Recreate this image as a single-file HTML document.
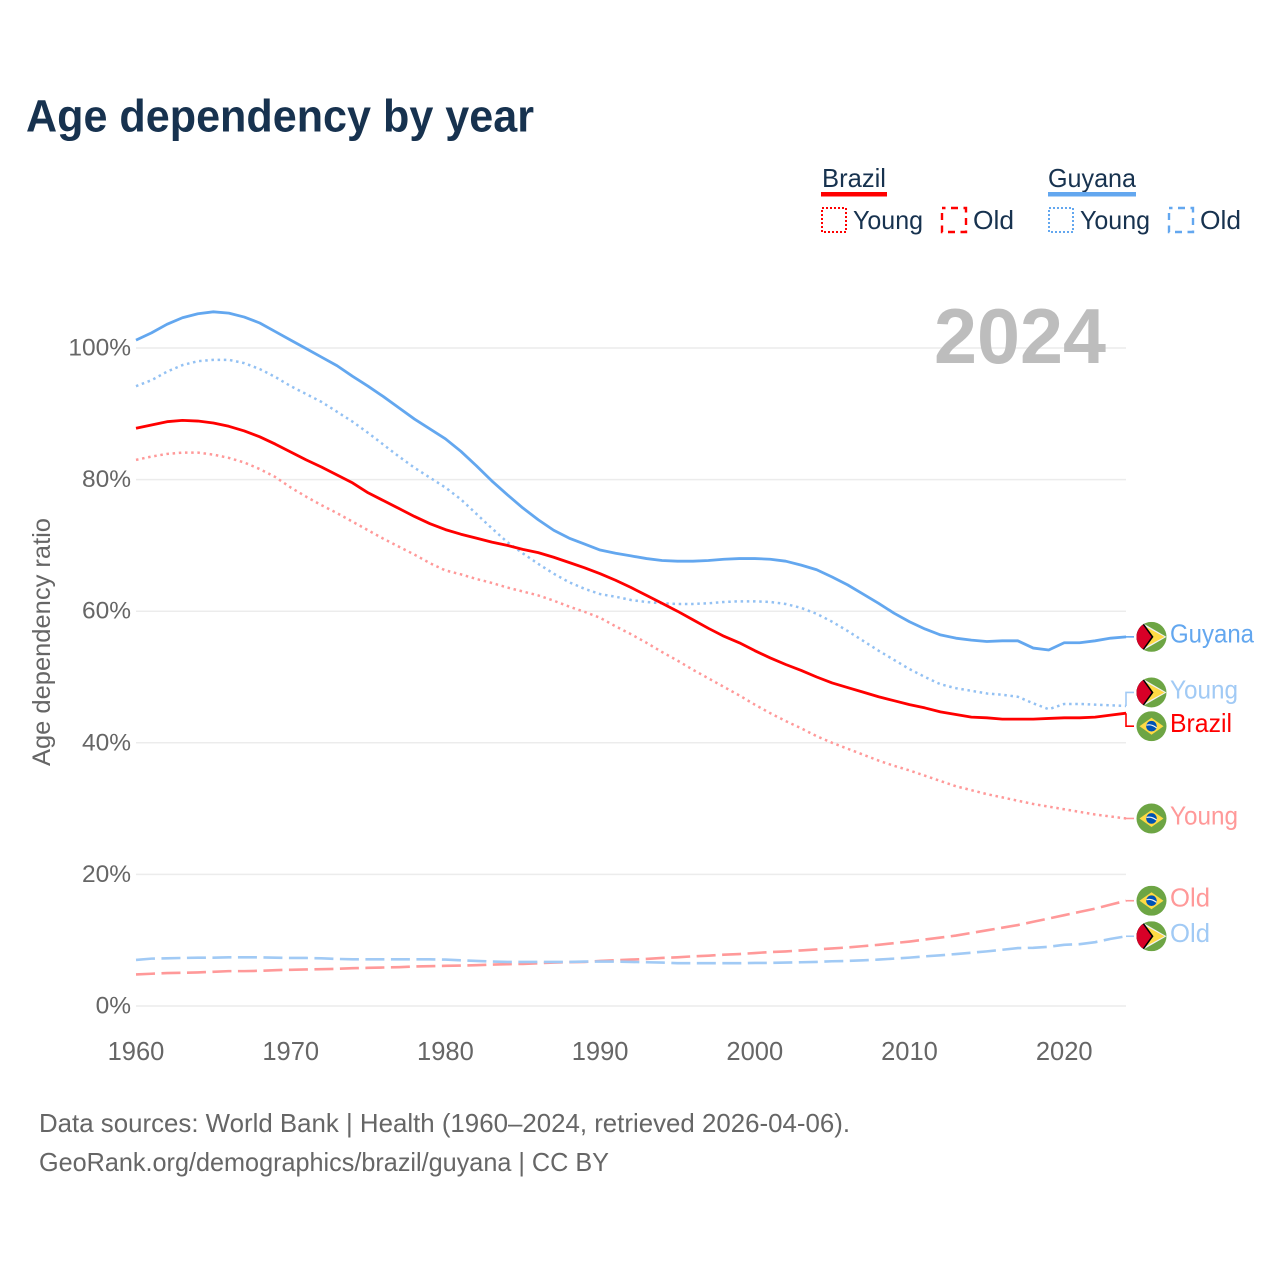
<!DOCTYPE html>
<html lang="en">
<head>
<meta charset="utf-8">
<title>Age dependency by year</title>
<style>
html,body{margin:0;padding:0;background:#fff;width:1280px;height:1280px;overflow:hidden}
svg{display:block;font-family:"Liberation Sans",sans-serif}
</style>
</head>
<body>
<svg id="chart" xmlns="http://www.w3.org/2000/svg" width="1280" height="1280" viewBox="0 0 1280 1280">
  <defs>
    <clipPath id="flag-clip"><circle cx="0" cy="0" r="15"/></clipPath>
    <g id="flag-brazil" clip-path="url(#flag-clip)">
      <rect x="-15" y="-15" width="30" height="30" fill="#6da544"/>
      <polygon points="-12,0 0,-8.5 12,0 0,8.5" fill="#ffda44"/>
      <circle cx="0" cy="0" r="5.3" fill="#0052b4"/>
      <path d="M-5,-1 Q0,-2.4 5,1.6" fill="none" stroke="#f0f0f0" stroke-width="1.2"/>
    </g>
    <g id="flag-guyana" clip-path="url(#flag-clip)">
      <rect x="-15" y="-15" width="30" height="30" fill="#6da544"/>
      <polygon points="-11,-15 15,0 -11,15" fill="#f0f0f0"/>
      <polygon points="-11,-13 13,0 -11,13" fill="#ffda44"/>
      <polygon points="-15,-15 -9,-15 2,0 -9,15 -15,15" fill="#000"/>
      <polygon points="-15,-14 -10,-14 0,0 -10,14 -15,14" fill="#d80027"/>
    </g>
  </defs>

  <text x="26" y="131.5" font-size="45" font-weight="700" fill="#17324f" textLength="508" lengthAdjust="spacingAndGlyphs">Age dependency by year</text>

  <g>
    <text x="822" y="187" font-size="26" fill="#17324f" textLength="64" lengthAdjust="spacingAndGlyphs">Brazil</text>
    <rect x="821" y="192" width="66" height="4.5" fill="#ff0000"/>
    <rect x="822" y="208" width="24" height="24" fill="none" stroke="#ff0000" stroke-width="2" stroke-dasharray="2 2"/>
    <text x="853" y="229" font-size="26" fill="#17324f" textLength="70" lengthAdjust="spacingAndGlyphs">Young</text>
    <rect x="942" y="208" width="24" height="24" fill="none" stroke="#ff0000" stroke-width="2.4" stroke-dasharray="7 5.5" stroke-dashoffset="3.5"/>
    <text x="973" y="229" font-size="26" fill="#17324f" textLength="41" lengthAdjust="spacingAndGlyphs">Old</text>

    <text x="1048" y="187" font-size="26" fill="#17324f" textLength="88" lengthAdjust="spacingAndGlyphs">Guyana</text>
    <rect x="1048" y="192" width="88" height="4.5" fill="#63a7ef"/>
    <rect x="1049" y="208" width="24" height="24" fill="none" stroke="#63a7ef" stroke-width="2" stroke-dasharray="2 2"/>
    <text x="1080" y="229" font-size="26" fill="#17324f" textLength="70" lengthAdjust="spacingAndGlyphs">Young</text>
    <rect x="1169" y="208" width="24" height="24" fill="none" stroke="#63a7ef" stroke-width="2.4" stroke-dasharray="7 5.5" stroke-dashoffset="3.5"/>
    <text x="1200" y="229" font-size="26" fill="#17324f" textLength="41" lengthAdjust="spacingAndGlyphs">Old</text>
  </g>

  <g id="grid"></g>
  <g id="y-ticks"></g>
  <g id="x-ticks"></g>

  <text x="934" y="363" font-size="78" font-weight="700" fill="#bdbdbd" textLength="172" lengthAdjust="spacingAndGlyphs">2024</text>

  <text transform="translate(50,766) rotate(-90)" font-size="25" fill="#666" textLength="248" lengthAdjust="spacingAndGlyphs">Age dependency ratio</text>

  <g id="series"></g>
  <g id="end-labels"></g>

  <text x="39" y="1132" font-size="26" fill="#666" textLength="811" lengthAdjust="spacingAndGlyphs">Data sources: World Bank | Health (1960–2024, retrieved 2026-04-06).</text>
  <text x="39" y="1171" font-size="26" fill="#666" textLength="570" lengthAdjust="spacingAndGlyphs">GeoRank.org/demographics/brazil/guyana | CC BY</text>
</svg>

<script>
const startYear = 1960;
const xTickYears = [1960, 1970, 1980, 1990, 2000, 2010, 2020];
const yTickValues = [0, 20, 40, 60, 80, 100];

const guyanaTotal = [
  101.2,102.3,103.6,104.6,105.2,105.5,105.3,104.7,103.8,102.5,
  101.2,99.9,98.6,97.3,95.7,94.2,92.6,90.9,89.2,87.7,
  86.2,84.3,82.1,79.8,77.7,75.7,73.9,72.3,71.1,70.2,
  69.3,68.8,68.4,68.0,67.7,67.6,67.6,67.7,67.9,68.0,
  68.0,67.9,67.6,67.0,66.3,65.2,64.0,62.6,61.2,59.7,
  58.4,57.3,56.4,55.9,55.6,55.4,55.5,55.5,54.4,54.1,
  55.2,55.2,55.5,55.9,56.1
];
const guyanaYoung = [
  94.2,95.1,96.4,97.4,98.0,98.2,98.2,97.7,96.8,95.6,
  94.2,93.0,91.8,90.3,88.8,87.1,85.3,83.5,81.8,80.3,
  78.8,77.0,74.8,72.6,70.5,68.8,67.2,65.7,64.4,63.4,
  62.6,62.2,61.7,61.4,61.2,61.1,61.1,61.2,61.4,61.5,
  61.5,61.4,61.1,60.5,59.6,58.4,57.0,55.5,54.0,52.6,
  51.2,50.0,48.9,48.3,47.9,47.5,47.3,47.0,46.0,45.1,
  45.9,45.9,45.8,45.7,45.6
];
const guyanaOld = [
  7.0,7.2,7.25,7.3,7.35,7.35,7.4,7.4,7.4,7.35,
  7.3,7.3,7.25,7.15,7.1,7.1,7.1,7.1,7.1,7.1,
  7.05,6.95,6.85,6.75,6.7,6.7,6.7,6.7,6.7,6.75,
  6.75,6.75,6.7,6.65,6.6,6.5,6.5,6.5,6.5,6.5,
  6.55,6.55,6.6,6.65,6.7,6.8,6.85,6.95,7.05,7.2,
  7.35,7.55,7.7,7.9,8.1,8.3,8.55,8.8,8.85,9.0,
  9.3,9.4,9.7,10.2,10.6
];
const brazilTotal = [
  87.8,88.3,88.8,89.0,88.9,88.6,88.1,87.4,86.5,85.4,
  84.2,83.0,81.9,80.7,79.5,78.0,76.8,75.6,74.4,73.3,
  72.4,71.7,71.1,70.5,70.0,69.4,68.9,68.2,67.4,66.6,
  65.7,64.7,63.6,62.4,61.2,60.0,58.7,57.4,56.2,55.2,
  54.0,52.9,51.9,51.0,50.0,49.1,48.4,47.7,47.0,46.4,
  45.8,45.3,44.7,44.3,43.9,43.8,43.6,43.6,43.6,43.7,
  43.8,43.8,43.9,44.2,44.5
];
const brazilYoung = [
  83.0,83.5,83.9,84.1,84.1,83.8,83.3,82.6,81.6,80.4,
  78.8,77.4,76.1,74.9,73.6,72.3,71.0,69.8,68.6,67.3,
  66.2,65.6,64.9,64.3,63.6,63.0,62.4,61.6,60.7,59.9,
  59.0,57.7,56.5,55.2,53.8,52.5,51.1,49.8,48.5,47.2,
  45.8,44.5,43.3,42.2,41.0,40.0,39.1,38.2,37.3,36.5,
  35.8,35.0,34.2,33.4,32.8,32.2,31.7,31.2,30.7,30.3,
  29.9,29.5,29.1,28.8,28.5
];
const brazilOld = [
  4.8,4.9,5.0,5.05,5.1,5.2,5.3,5.3,5.35,5.45,
  5.5,5.55,5.6,5.65,5.75,5.8,5.85,5.9,6.0,6.05,
  6.1,6.15,6.2,6.3,6.35,6.4,6.5,6.6,6.65,6.7,
  6.85,6.95,7.05,7.15,7.3,7.4,7.55,7.65,7.8,7.9,
  8.05,8.2,8.3,8.45,8.6,8.75,8.9,9.1,9.3,9.55,
  9.8,10.1,10.4,10.7,11.1,11.5,11.9,12.3,12.8,13.3,
  13.8,14.3,14.8,15.4,16.0
];

const NS = 'http://www.w3.org/2000/svg';
function xScale(year) { return 136 + (year - 1960) * 15.47; }
function yScale(value) { return 1006 - value * 6.58; }
function make(tag, parent, attrs) {
  const el = document.createElementNS(NS, tag);
  for (const k in attrs) el.setAttribute(k, attrs[k]);
  parent.appendChild(el);
  return el;
}

const gridG = document.getElementById('grid');
const yG = document.getElementById('y-ticks');
const xG = document.getElementById('x-ticks');
yTickValues.forEach(function (v) {
  const line = make('line', gridG, {x1: 136, x2: 1126, y1: yScale(v), y2: yScale(v), stroke: '#ececec', 'stroke-width': 1.5});
  
  
  const t = make('text', yG, {x: 131, y: yScale(v) + 7.5, 'text-anchor': 'end', 'font-size': 24.5, fill: '#666'});
  t.textContent = v + '%';
  
  
});
xTickYears.forEach(function (yr) {
  const t = make('text', xG, {x: xScale(yr), y: 1060, 'text-anchor': 'middle', 'font-size': 25.5, fill: '#666'});
  t.textContent = String(yr);
  
  
});

const seriesG = document.getElementById('series');
const labelsG = document.getElementById('end-labels');
function drawSeries(values, color, width, dash, seriesName) {
  const pts = values.map(function (v, i) { return xScale(startYear + i).toFixed(2) + ',' + yScale(v).toFixed(2); }).join(' ');
  const attrs = {points: pts, fill: 'none', stroke: color, 'stroke-width': width, 'stroke-linejoin': 'round'};
  if (dash) attrs['stroke-dasharray'] = dash;
  const line = make('polyline', seriesG, attrs);
  
  
}
function drawEndLabel(values, flag, text, textWidth, color, offset, labelName) {
  const endY = yScale(values[values.length - 1]);
  const cy = endY + offset;
  const path = 'M1126,' + endY.toFixed(2) + ' L1126,' + cy.toFixed(2) + ' L1134,' + cy.toFixed(2);
  const connector = make('path', labelsG, {d: path, fill: 'none', stroke: color, 'stroke-width': 1.6});
  
  
  const use = make('use', labelsG, {href: '#flag-' + flag, transform: 'translate(1151.5,' + cy.toFixed(2) + ')'});
  
  
  const t = make('text', labelsG, {x: 1170, y: (cy + 5.8).toFixed(2), 'font-size': 26, fill: color, textLength: textWidth, lengthAdjust: 'spacingAndGlyphs'});
  t.textContent = text;
  
  
}

drawSeries(brazilYoung, '#ff9999', 2.5, '2.5 3.7', 'brazil-young-line');
drawSeries(brazilOld, '#ff9999', 2.6, '19 6.5', 'brazil-old-line');
drawSeries(guyanaYoung, '#93c1f3', 2.5, '2.5 3.7', 'guyana-young-line');
drawSeries(guyanaOld, '#a1caf5', 2.6, '19 6.5', 'guyana-old-line');
drawSeries(guyanaTotal, '#63a7ef', 2.8, null, 'guyana-total-line');
drawSeries(brazilTotal, '#ff0000', 2.8, null, 'brazil-total-line');

drawEndLabel(guyanaTotal, 'guyana', 'Guyana', 84, '#63a7ef', 0, 'guyana-total-label');
drawEndLabel(guyanaYoung, 'guyana', 'Young', 68, '#a1caf5', -13.5, 'guyana-young-label');
drawEndLabel(brazilTotal, 'brazil', 'Brazil', 62, '#ff0000', 13, 'brazil-total-label');
drawEndLabel(brazilYoung, 'brazil', 'Young', 68, '#ff9999', 0, 'brazil-young-label');
drawEndLabel(brazilOld, 'brazil', 'Old', 40, '#ff9999', 0, 'brazil-old-label');
drawEndLabel(guyanaOld, 'guyana', 'Old', 40, '#a1caf5', 0, 'guyana-old-label');
</script>
</body>
</html>
